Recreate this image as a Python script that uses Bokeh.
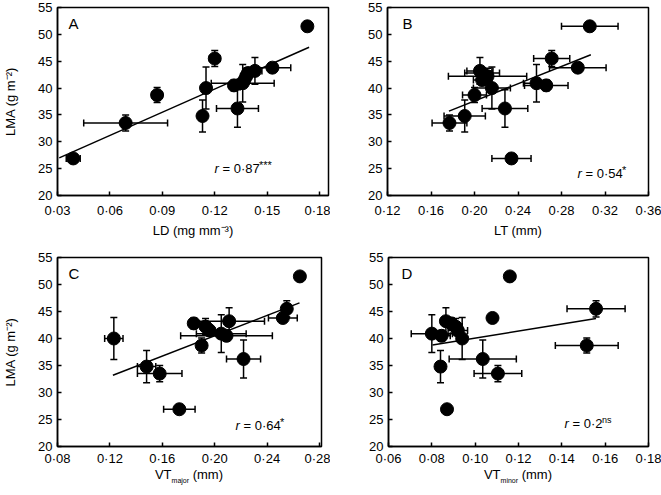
from bokeh.plotting import figure
from bokeh.models import (ColumnDataSource, Whisker, TeeHead, Label, FixedTicker,
                          Range1d, CustomJSTickFormatter, Div)
from bokeh.layouts import column, row
from bokeh.embed import file_html
from bokeh.resources import INLINE

# ---- data (15 species, ordered by LMA) ----
lma    = [26.9, 33.5, 34.8, 36.2, 38.7, 40.0, 40.5, 40.9, 41.5, 42.2, 42.8, 43.2, 43.8, 45.5, 51.5]
lma_se = [0.6, 1.5, 3.0, 3.5, 1.4, 3.9, 1.0, 3.5, 1.0, 1.5, 1.0, 2.5, 0.8, 1.5, 0.5]

ld     = [0.039, 0.069, 0.113, 0.133, 0.087, 0.115, 0.131, 0.136, 0.137, 0.138, 0.139, 0.143, 0.153, 0.120, 0.173]
ld_se  = [0.004, 0.024, 0.002, 0.012, 0.003, 0.002, 0.002, 0.018, 0.002, 0.003, 0.002, 0.004, 0.0105, 0.003, 0.002]

lt     = [0.234, 0.177, 0.191, 0.228, 0.200, 0.216, 0.266, 0.257, 0.207, 0.212, 0.207, 0.205, 0.295, 0.271, 0.306]
lt_se  = [0.018, 0.016, 0.019, 0.021, 0.011, 0.017, 0.020, 0.012, 0.008, 0.036, 0.016, 0.012, 0.026, 0.0166, 0.026]

vtmaj    = [0.173, 0.158, 0.148, 0.222, 0.190, 0.123, 0.209, 0.205, 0.196, 0.193, 0.184, 0.211, 0.252, 0.255, 0.265]
vtmaj_se = [0.012, 0.017, 0.007, 0.013, 0.003, 0.007, 0.035, 0.019, 0.004, 0.004, 0.003, 0.027, 0.011, 0.003, 0.003]

vtmin    = [0.087, 0.1105, 0.084, 0.1035, 0.1515, 0.094, 0.0845, 0.080, 0.092, 0.091, 0.089, 0.0865, 0.108, 0.1558, 0.116]
vtmin_se = [0.001, 0.011, 0.0015, 0.0155, 0.0145, 0.002, 0.004, 0.0095, 0.0045, 0.003, 0.002, 0.002, 0.0018, 0.0134, 0.0015]

# regression lines (end points)
fitA_x, fitA_y = [0.031, 0.174], [27.0, 47.6]
fitB_x, fitB_y = [0.1765, 0.307], [35.7, 46.2]
fitC_x, fitC_y = [0.1223, 0.2647], [33.2, 46.6]
fitD_x, fitD_y = [0.0803, 0.1558], [38.8, 43.7]

y_ticks  = [20, 25, 30, 35, 40, 45, 50, 55]
xA_ticks = [0.03, 0.06, 0.09, 0.12, 0.15, 0.18]
xB_ticks = [0.12, 0.16, 0.20, 0.24, 0.28, 0.32, 0.36]
xC_ticks = [0.08, 0.12, 0.16, 0.20, 0.24, 0.28]
xD_ticks = [0.06, 0.08, 0.10, 0.12, 0.14, 0.16, 0.18]

r_values = ["= 0\u00b787", "= 0\u00b754", "= 0\u00b764", "= 0\u00b72"]
r_signif = ["***", "*", "*", "ns"]
letters  = ["A", "B", "C", "D"]
y_label  = "LMA (g m\u207b\u00b2)"
xA_label = "LD (mg mm\u207b\u00b3)"
xB_label = "LT (mm)"
xC_label = ("VT", "major", " (mm)")
xD_label = ("VT", "minor", " (mm)")

FONT = "Liberation Sans"
DOT_FMT = "return tick.toFixed(2).replace('.', '\u00b7');"


def panel(x, xse, fx, fy, xr, xticks, letter, rval, rsig, w, h, bl, br, bt, bb,
          xlabel, ylabel, tick_so, lab_so, letter_x, r_x, r_y, sup_dx):
    p = figure(width=w, height=h, x_range=Range1d(*xr), y_range=Range1d(20, 55),
               output_backend="svg", toolbar_location=None,
               min_border_left=bl, min_border_right=br, min_border_top=bt, min_border_bottom=bb)
    p.xgrid.visible = False
    p.ygrid.visible = False
    p.outline_line_color = "black"
    p.outline_line_width = 1.5
    p.outline_line_alpha = 1
    p.background_fill_color = "white"
    p.border_fill_color = "white"
    p.xaxis.ticker = FixedTicker(ticks=xticks)
    p.xaxis.formatter = CustomJSTickFormatter(code=DOT_FMT)
    p.yaxis.ticker = FixedTicker(ticks=y_ticks)
    for ax in (p.xaxis[0], p.yaxis[0]):
        ax.major_tick_in = 4
        ax.major_tick_out = 0
        ax.minor_tick_in = 0
        ax.minor_tick_out = 0
        ax.axis_line_color = "black"
        ax.axis_line_width = 1.5
        ax.major_tick_line_color = "black"
        ax.major_tick_line_width = 1.5
        ax.major_label_text_font = FONT
        ax.major_label_text_font_size = "13px"
        ax.major_label_text_color = "black"
        ax.axis_label_text_font = FONT
        ax.axis_label_text_font_size = "13px"
        ax.axis_label_text_font_style = "normal"
        ax.axis_label_text_color = "black"
    p.yaxis.major_label_standoff = 5
    p.xaxis.major_label_standoff = tick_so
    if ylabel:
        p.yaxis.axis_label = ylabel
        p.yaxis.axis_label_standoff = 17
    if xlabel:
        p.xaxis.axis_label = xlabel
        p.xaxis.axis_label_standoff = lab_so

    ylo = [a - b for a, b in zip(lma, lma_se)]
    yhi = [a + b for a, b in zip(lma, lma_se)]
    xlo = [a - b for a, b in zip(x, xse)]
    xhi = [a + b for a, b in zip(x, xse)]
    src = ColumnDataSource(dict(x=x, y=lma, ylo=ylo, yhi=yhi, xlo=xlo, xhi=xhi))

    for dim, base, lo, hi in (("height", "x", "ylo", "yhi"), ("width", "y", "xlo", "xhi")):
        wk = Whisker(source=src, base=base, lower=lo, upper=hi, dimension=dim,
                     line_color="black", line_width=1.5,
                     upper_head=TeeHead(size=7, line_width=1.5, line_color="black"),
                     lower_head=TeeHead(size=7, line_width=1.5, line_color="black"))
        p.add_layout(wk)

    p.line(fx, fy, line_color="black", line_width=1.5)
    p.scatter("x", "y", source=src, size=13, fill_color="black", line_color="black")

    fh = h - bt - bb
    p.add_layout(Label(x=letter_x, y=fh - 16, x_units="screen", y_units="screen", text=letter,
                       text_font=FONT, text_font_size="15px", text_color="black",
                       text_baseline="middle", text_align="left"))
    # r statistic: italic r, value, superscript significance
    p.add_layout(Label(x=r_x, y=r_y, x_units="screen", y_units="screen", text="r",
                       text_font=FONT, text_font_size="13px", text_font_style="italic",
                       text_baseline="middle", text_align="left", text_color="black"))
    p.add_layout(Label(x=r_x + 8, y=r_y, x_units="screen", y_units="screen", text=rval,
                       text_font=FONT, text_font_size="13px",
                       text_baseline="middle", text_align="left", text_color="black"))
    p.add_layout(Label(x=r_x + sup_dx, y=r_y + 4, x_units="screen", y_units="screen", text=rsig,
                       text_font=FONT, text_font_size="9px" if rsig == "ns" else "11px",
                       text_baseline="middle", text_align="left", text_color="black"))
    return p


def sub_label(parts, w, ml, mr):
    main, sub, tail = parts
    html = (main + '<sub style="font-size:7px;line-height:0">' + sub + '</sub>' + tail)
    return Div(text=html, width=w, height=27, margin=(0, mr, 0, ml),
               styles={"text-align": "center", "font-family": FONT, "font-size": "13px",
                       "line-height": "14px", "color": "black", "white-space": "pre"})


pA = panel(ld, ld_se, fitA_x, fitA_y, (0.03, 0.1851), xA_ticks, letters[0], r_values[0], r_signif[0],
           330, 250, 57, 2, 7, 55, xA_label, y_label, 7, 2,
           11, 157, 27, 44.5)
pB = panel(lt, lt_se, fitB_x, fitB_y, (0.12, 0.36), xB_ticks, letters[1], r_values[1], r_signif[1],
           331, 250, 57, 13, 7, 55, xB_label, None, 7, 2,
           15, 190, 22, 44.5)
pC = panel(vtmaj, vtmaj_se, fitC_x, fitC_y, (0.08, 0.2815), xC_ticks, letters[2], r_values[2], r_signif[2],
           330, 218, 57, 9, 7, 22, None, y_label, 4, 0,
           11, 178, 21, 44.5)
pD = panel(vtmin, vtmin_se, fitD_x, fitD_y, (0.06, 0.18), xD_ticks, letters[3], r_values[3], r_signif[3],
           331, 218, 58, 13, 7, 22, None, None, 4, 0,
           13, 176, 23, 37.5)

divC = sub_label(xC_label, 264, 57, 9)
divD = sub_label(xD_label, 260, 58, 13)

layout = column(row(pA, pB), row(column(pC, divC), column(pD, divD)))
open("out.html", "w").write(file_html(layout, INLINE))
